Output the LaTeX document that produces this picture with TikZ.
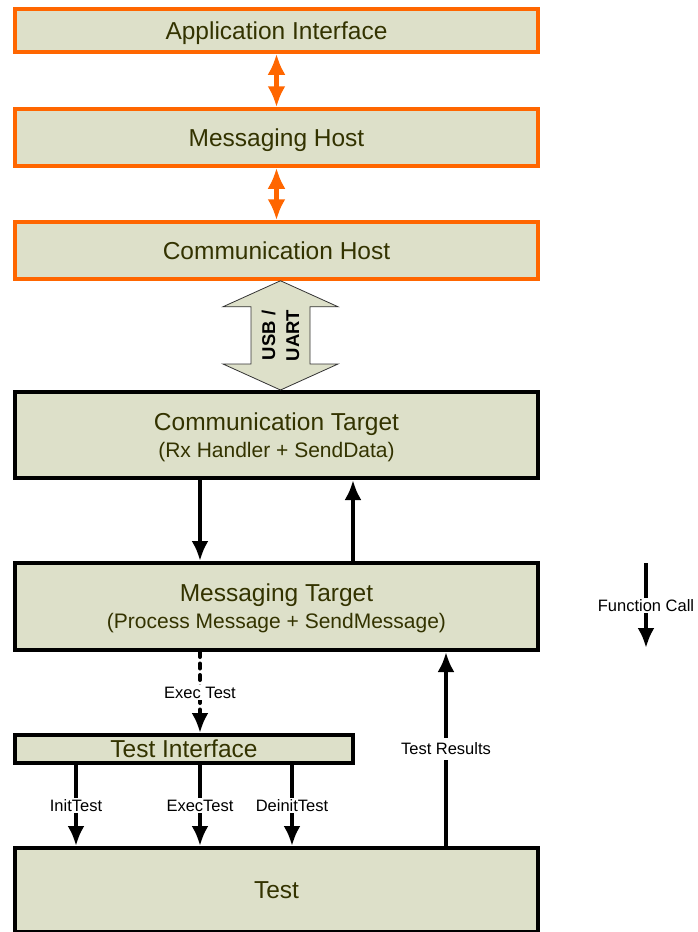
\documentclass[tikz,border=0pt]{standalone}
\usepackage{fontspec}
\setmainfont{Liberation Sans}
\usepackage{xcolor}
\usetikzlibrary{arrows.meta,calc}

\definecolor{boxfill}{HTML}{DDE0C9}
\definecolor{boxtext}{HTML}{333300}
\definecolor{hostorange}{HTML}{FF6600}

\newcommand{\subline}[1]{{\fontsize{21}{27}\selectfont #1}}

\begin{document}
\begin{tikzpicture}[x=1pt, y=-1pt,
  hostbox/.style={draw=hostorange, line width=3.5pt, fill=boxfill, text=boxtext,
    minimum width=523pt, text depth=0pt, font=\fontsize{24.5}{27}\selectfont},
  targetbox/.style={draw=black, line width=4pt, fill=boxfill, text=boxtext,
    minimum width=523pt, align=center, font=\fontsize{24.5}{27}\selectfont},
  hostlink/.style={draw=hostorange, line width=4.5pt,
    {Latex[length=21pt,width=18pt]}-{Latex[length=21pt,width=18pt]}},
  fcall/.style={draw=black, line width=4pt, -{Latex[length=20pt,width=17pt]}},
  execdash/.style={dash pattern=on 5pt off 6.5pt, line cap=round},
  lbl/.style={fill=white, text=black, inner sep=1.5pt, font=\fontsize{16.5}{18}\selectfont},
  usbarrow/.style={draw=black!80, line width=0.8pt, fill=boxfill},
  usblabel/.style={rotate=90, align=center, font=\fontsize{18.5}{24}\bfseries}]

  \useasboundingbox (0,0) rectangle (697,932);
  \clip (0,0) rectangle (697,932);

  % host side
  \node (appif) [hostbox, minimum height=43pt] at (276.5,30.5) {Application Interface};
  \node (msghost) [hostbox, minimum height=57pt] at (276.5,137.5) {Messaging Host};
  \node (comhost) [hostbox, minimum height=57pt] at (276.5,250.5) {Communication Host};

  % target side
  \node (comtgt) [targetbox, minimum height=86pt] at (276.5,435)
    {\rule{0pt}{22pt}Communication Target\\\subline{(Rx Handler + SendData)}};
  \node (msgtgt) [targetbox, minimum height=87pt] at (276.5,606.5)
    {\rule{0pt}{22pt}Messaging Target\\\subline{(Process Message + SendMessage)}};
  \node (testif) [targetbox, minimum width=338pt, minimum height=28pt, inner ysep=1pt, text depth=0pt]
    at (184,749) {Test Interface};
  \node (test) [targetbox, minimum height=84pt, text depth=0pt] at (276.5,890) {Test};

  \draw[hostlink] (appif) -- (msghost);
  \draw[hostlink] (msghost) -- (comhost);

  % USB / UART link
  \coordinate (usbtop) at ([xshift=4pt]comhost.south);
  \coordinate (usbbot) at ([xshift=4pt]comtgt.north);
  \draw[usbarrow] (usbtop) -- ++(57.5,26) -- ++(-28,0) -- ($(usbbot)+(29.5,-26)$) -- ++(28,0)
    -- (usbbot) -- ++(-57.5,-26) -- ++(28,0) -- ($(usbtop)+(-29.5,26)$) -- ++(-28,0) -- cycle;
  \node (usb) [usblabel] at ($(usbtop)!0.5!(usbbot)$) {USB /\\UART};

  \draw[fcall] ([xshift=-76.5pt]comtgt.south) -- ([xshift=-76.5pt]msgtgt.north);
  \draw[fcall] ([xshift=76.5pt]msgtgt.north) -- ([xshift=76.5pt]comtgt.south);

  \draw[fcall, execdash] ([xshift=-76.5pt]msgtgt.south) -- ([xshift=16pt]testif.north)
    node[midway, lbl] {Exec Test};

  \foreach \dx/\callname in {-108/InitTest, 16/ExecTest, 108/DeinitTest}
    \draw[fcall] ([xshift=\dx pt]testif.south) -- ([xshift=\dx pt]testif.south |- test.north)
      node[midway, lbl] {\callname};

  \draw[fcall] ([xshift=169.5pt]test.north) -- ([xshift=169.5pt]msgtgt.south)
    node[midway, lbl, inner ysep=5pt] {Test Results};

  % legend
  \coordinate (fcalltop) at (646,563);
  \coordinate (fcallbot) at (646,648);
  \draw[fcall] (fcalltop) -- (fcallbot) node[midway, lbl] {Function Call};
\end{tikzpicture}
\end{document}
